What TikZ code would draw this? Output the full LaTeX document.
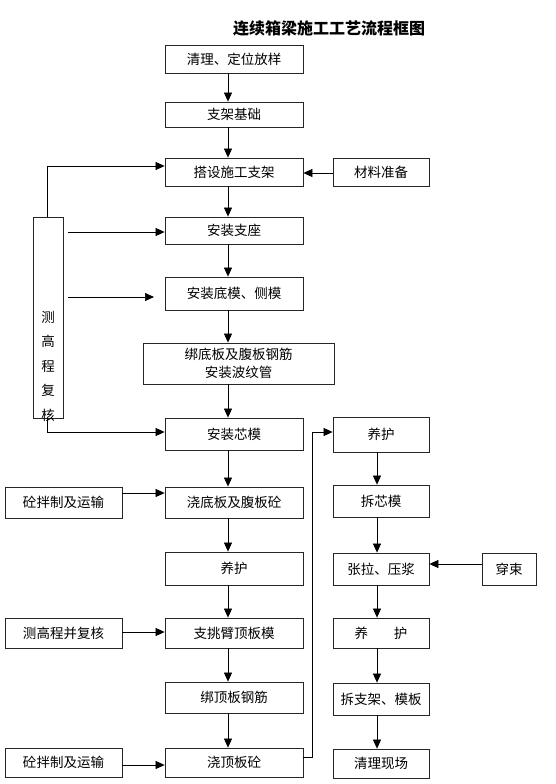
\documentclass[tikz,border=0pt]{standalone}
\usepackage{fontspec}
\setmainfont{Noto Sans CJK SC}
\usetikzlibrary{arrows.meta}
\begin{document}
\begin{tikzpicture}[x=1pt,y=-1pt,
  box/.style={draw=black!85,line width=0.8pt,inner sep=0pt,align=center,
    font=\fontsize{13.5}{17}\selectfont},
  arr/.style={-{Triangle[length=9pt,width=8pt]},line width=0.7pt},
  ln/.style={line width=0.7pt}]
\useasboundingbox (0,0) rectangle (555,784);
% title
\node[font=\fontsize{16}{18}\selectfont\bfseries] (title) at (329,28) {连续箱梁施工工艺流程框图};
% main column
\node[box,minimum width=138,minimum height=28] (n1) at (234,59) {清理、定位放样};
\node[box,minimum width=138,minimum height=25] (n2) at (234,114.5) {支架基础};
\node[box,minimum width=138,minimum height=28] (n3) at (234,172) {搭设施工支架};
\node[box,minimum width=96,minimum height=28] (m) at (381,172) {材料准备};
\node[box,minimum width=30,minimum height=201] (L) at (48,317.5) {};
\node[align=center,inner sep=0pt,font=\fontsize{13.5}{24.5}\selectfont] (Lt) at (48,366) {测\\高\\程\\复\\核};
\node[box,minimum width=138,minimum height=27] (n4) at (234,230.5) {安装支座};
\node[box,minimum width=138,minimum height=33] (n5) at (234,293.5) {安装底模、侧模};
\node[box,minimum width=191,minimum height=41,font=\fontsize{13.5}{18}\selectfont] (n6) at (238.5,363.5) {绑底板及腹板钢筋\\安装波纹管};
\node[box,minimum width=138,minimum height=32] (n7) at (234,434) {安装芯模};
\node[box,minimum width=138,minimum height=31] (n8) at (234,502.5) {浇底板及腹板砼};
\node[box,minimum width=117,minimum height=31] (s1) at (63.5,502.5) {砼拌制及运输};
\node[box,minimum width=138,minimum height=33] (n9) at (234,568.5) {养护};
\node[box,minimum width=117,minimum height=30] (s2) at (63.5,633) {测高程并复核};
\node[box,minimum width=138,minimum height=30] (n10) at (234,633) {支挑臂顶板模};
\node[box,minimum width=138,minimum height=31] (n11) at (234,697.5) {绑顶板钢筋};
\node[box,minimum width=117,minimum height=29] (s3) at (63.5,762.5) {砼拌制及运输};
\node[box,minimum width=138,minimum height=29] (n12) at (234,762.5) {浇顶板砼};
% right column
\node[box,minimum width=96,minimum height=35] (r1) at (381,434.5) {养护};
\node[box,minimum width=96,minimum height=32] (r2) at (381,501) {拆芯模};
\node[box,minimum width=96,minimum height=32] (r3) at (381,569) {张拉、压浆};
\node[box,minimum width=54,minimum height=32] (t) at (509,569) {穿束};
\node[box,minimum width=96,minimum height=30] (r4) at (381,633) {养\hspace{26pt}护};
\node[box,minimum width=96,minimum height=32] (r5) at (381,699) {拆支架、模板};
\node[box,minimum width=96,minimum height=29] (r6) at (381,763.5) {清理现场};
% main column arrows
\coordinate (ax) at (228,0);
\foreach \a/\b in {n1/n2,n2/n3,n3/n4,n4/n5,n5/n6,n6/n7,n7/n8,n8/n9,n9/n10,n10/n11,n11/n12}
  \draw[arr] (\a.south -| ax) -- (\b.north -| ax);
% right column arrows
\coordinate (bx) at (377,0);
\foreach \a/\b in {r1/r2,r2/r3,r3/r4,r4/r5,r5/r6}
  \draw[arr] (\a.south -| bx) -- (\b.north -| bx);
% side inputs
\draw[arr] (m.west |- 0,173) -- (n3.east |- 0,173);
\draw[arr] (t.west |- 0,564) -- (r3.east |- 0,564);
\draw[arr] (s1.east |- 0,493) -- (n8.west |- 0,493);
\draw[arr] (s2.east |- 0,632) -- (n10.west |- 0,632);
\draw[arr] (s3.east |- 0,765) -- (n12.west |- 0,765);
% survey box links
\draw[arr] (47,0 |- L.north) -- (47,166) -- (n3.west |- 0,166);
\coordinate (La) at (68,232);
\coordinate (Lb) at (68,297);
\coordinate (Lbend) at (154,297);
\draw[arr] (La) -- (n4.west |- La);
\draw[arr] (Lb) -- (Lbend);
\draw[arr] (47,0 |- L.south) -- (47,432) -- (n7.west |- 0,432);
% link to right column
\draw[arr] (n12.east |- 0,757) -- (312,757) -- (312,432) -- (r1.west |- 0,432);
\end{tikzpicture}
\end{document}
